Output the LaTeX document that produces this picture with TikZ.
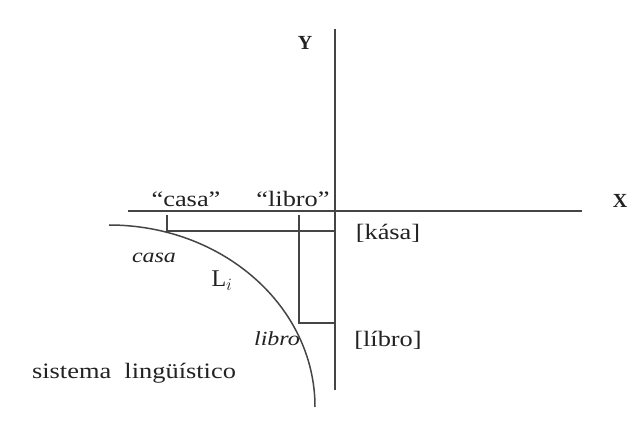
\documentclass[tikz,border=0pt]{standalone}
\usepackage{fontspec}
\usepackage{graphicx}
\setmainfont{Liberation Serif}
\definecolor{linegray}{HTML}{454545}
\definecolor{txtgray}{HTML}{222222}
\newcommand{\widetxt}[1]{\scalebox{1.2}[1]{#1}}
\tikzset{
  axisline/.style={draw=linegray, line width=2pt},
  guideline/.style={draw=linegray, line width=1.5pt},
  lab/.style={font=\fontsize{22}{26}\selectfont, text=txtgray, inner sep=0pt, anchor=base},
  itlab/.style={lab, font=\fontsize{20}{24}\selectfont\itshape},
  axlab/.style={lab, font=\fontsize{20}{24}\selectfont\bfseries},
}

\begin{document}
\begin{tikzpicture}[x=1pt, y=-1pt]
    \useasboundingbox (0,0) rectangle (636,443);
    % axes
    \coordinate (ytop) at (335,29);
    \coordinate (ybot) at (335,390);
    \coordinate (xleft) at (128,211);
    \coordinate (xright) at (582,211);
    \draw[axisline] (ytop) -- (ybot);
    \draw[axisline] (xleft) -- (xright);
    \node[axlab] (ylab) at (305,50) {Y};
    \node[axlab] (xlab) at (620,208) {X};
    % casa
    \coordinate (casatop) at (167,215);
    \coordinate (casacorner) at (167,231);
    \coordinate (casaend) at (335,231);
    \draw[guideline] (casatop) -- (casacorner) -- (casaend);
    % libro
    \coordinate (librotop) at (299,215);
    \coordinate (librocorner) at (299,323);
    \coordinate (libroend) at (335,323);
    \draw[guideline] (librotop) -- (librocorner) -- (libroend);
    % curve of the system
    \coordinate (curvestart) at (109,225);
    \draw[guideline] (curvestart) arc[start angle=-90, end angle=0, x radius=206, y radius=182];
    % texts
    \node[lab] (casaq) at (186,207) {\widetxt{“casa”}};
    \node[lab] (libroq) at (293,207) {\widetxt{“libro”}};
    \node[lab] (kasa) at (388,240) {\widetxt{[kása]}};
    \node[lab] (libro) at (388,346) {\widetxt{[líbro]}};
    \node[itlab] (casait) at (154,262) {\widetxt{casa}};
    \node[itlab] (libroit) at (277,345) {\widetxt{libro}};
    \node[lab, font=\fontsize{24}{28}\selectfont] (li) at (222,287) {L$_i$};
    \node[lab] (sist) at (134,378) {\widetxt{sistema\ \ lingüístico}};
\end{tikzpicture}
\end{document}
